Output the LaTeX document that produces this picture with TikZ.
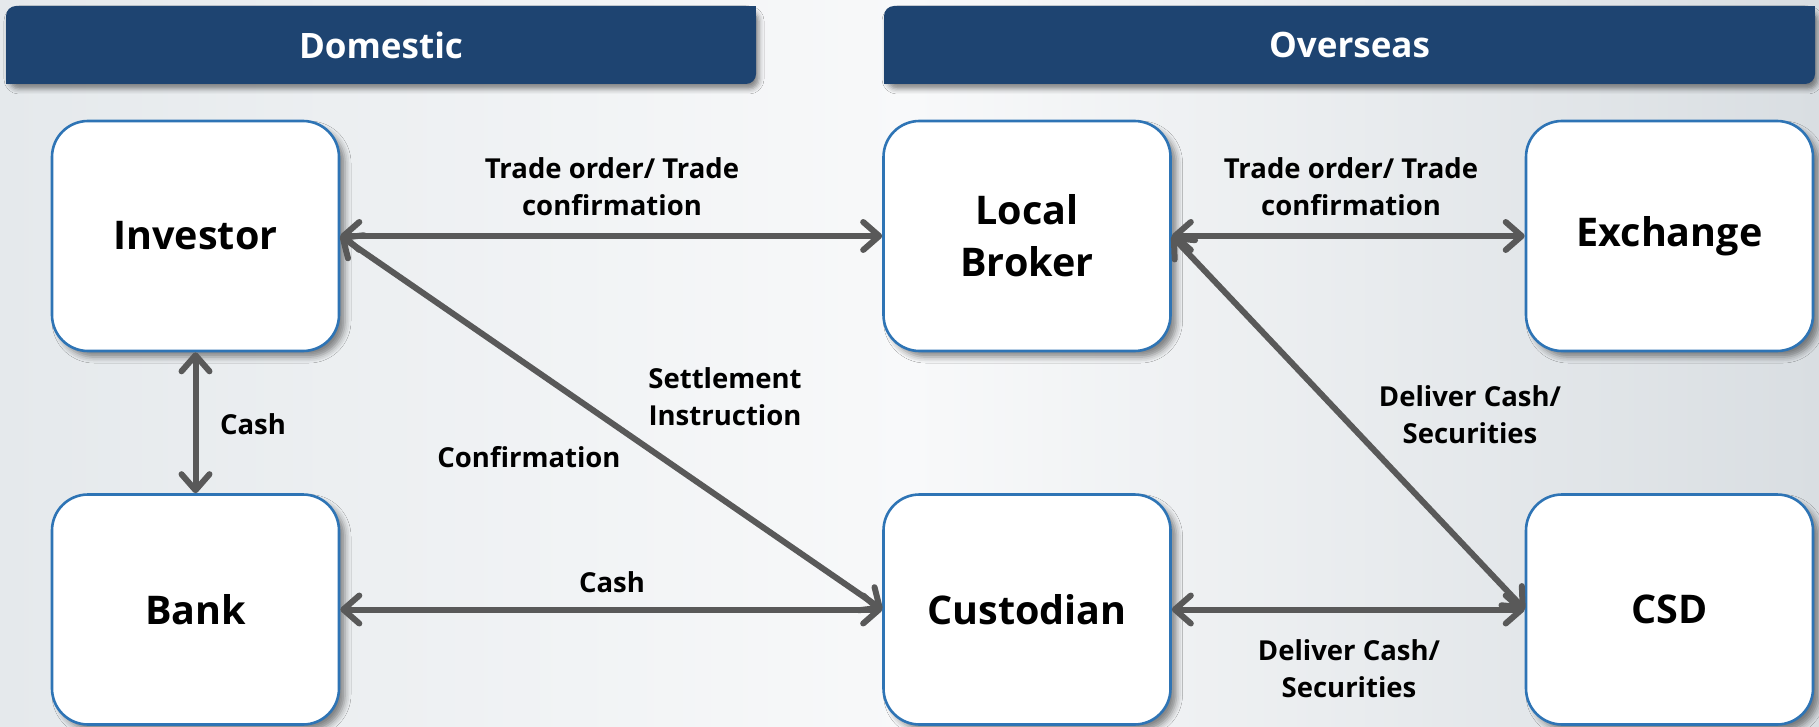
\documentclass[tikz,border=0pt]{standalone}
\usepackage{fontspec}
\setmainfont{Open Sans}
\usetikzlibrary{arrows.meta,shadows.blur}
\definecolor{hdrblue}{RGB}{30,68,113}
\definecolor{boxblue}{RGB}{46,116,181}
\definecolor{arrowgray}{RGB}{89,89,89}
\definecolor{bgleft}{RGB}{229,233,236}
\definecolor{bgmid}{RGB}{248,249,250}
\definecolor{bgright}{RGB}{217,222,226}
\begin{document}
\begin{tikzpicture}[x=1pt,y=-1pt,
  header/.style={fill=hdrblue, text=white, font=\fontsize{35}{42}\selectfont\bfseries,
    minimum height=78pt, inner sep=0pt, rounded corners=10pt,
    blur shadow={shadow xshift=3pt, shadow yshift=-5pt, shadow blur radius=5pt, shadow opacity=45}},
  entity/.style={draw=boxblue, line width=2.6pt, fill=white, rounded corners=36pt,
    minimum width=287pt, minimum height=230pt, inner sep=0pt, align=center,
    font=\fontsize{39.5}{52}\selectfont\bfseries,
    blur shadow={shadow xshift=6pt, shadow yshift=-6pt, shadow blur radius=6pt, shadow opacity=45}},
  link/.style={draw=arrowgray, line width=6pt, >={Straight Barb[length=16pt,width=28pt,round]}, <->},
  lbl/.style={font=\fontsize{27.5}{37}\selectfont\bfseries, align=center, inner sep=0pt}
]
\useasboundingbox (0,0) rectangle (1819,727);
\shade[left color=bgleft, right color=bgright, middle color=bgmid] (0,0) rectangle (1819,727);

% region headers
\node[header, minimum width=750pt] (dom) at (381,45) {Domestic};
\fill[hdrblue] (dom.north east) rectangle ++(-12,12);
\fill[hdrblue] (dom.south west) rectangle ++(12,-12);
\node[header, minimum width=931pt] (ovs) at (1349.5,45) {Overseas};
\fill[hdrblue] (ovs.north east) rectangle ++(-12,12);
\fill[hdrblue] (ovs.south west) rectangle ++(12,-12);

% parties
\node[entity] (inv) at (195.5,236) {Investor};
\node[entity] (bank) at (195.5,609.5) {Bank};
\node[entity] (brk) at (1027,236) {Local\\Broker};
\node[entity] (cus) at (1027,609.5) {Custodian};
\node[entity] (exc) at (1669.5,236) {Exchange};
\node[entity] (csd) at (1669.5,609.5) {CSD};

% flows
\draw[link] (inv.east) -- (brk.west);
\draw[link] (inv.east) -- (cus.west);
\draw[link] (inv.south) -- (bank.north);
\draw[link] (bank.east) -- (cus.west);
\draw[link] (brk.east) -- (exc.west);
\draw[link] (brk.east) -- (csd.west);
\draw[link] (cus.east) -- (csd.west);

% flow labels
\node[lbl] (l1) at (612,187) {Trade order/ Trade\\confirmation};
\node[lbl] (l2) at (1351,187) {Trade order/ Trade\\confirmation};
\node[lbl] (l3) at (725,397) {Settlement\\Instruction};
\node[lbl] (l4) at (529,457) {Confirmation};
\node[lbl] (l5) at (612,582) {Cash};
\node[lbl] (l6) at (253,424) {Cash};
\node[lbl] (l7) at (1470,415) {Deliver Cash/\\Securities};
\node[lbl] (l8) at (1349,669) {Deliver Cash/\\Securities};
\end{tikzpicture}
\end{document}
